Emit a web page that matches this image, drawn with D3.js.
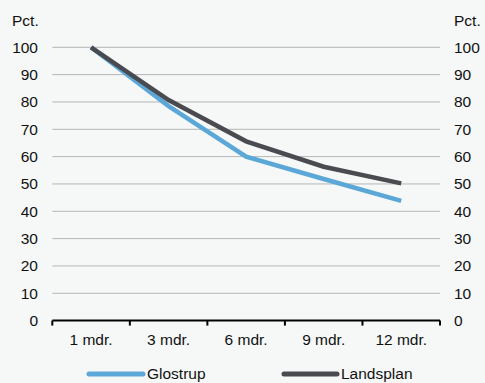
<!DOCTYPE html>
<html><head><meta charset="utf-8">
<script src="https://cdn.jsdelivr.net/npm/d3@7"></script>
<style>body{margin:0;background:#f6f8f8;}svg{display:block;font-family:"Liberation Sans",Arial,sans-serif;}</style>
</head><body>
<script>
const categories = ["1 mdr.", "3 mdr.", "6 mdr.", "9 mdr.", "12 mdr."];
const glostrup = [100, 78.5, 60, 51.8, 43.8];
const landsplan = [100, 80.7, 65.6, 56.3, 50.2];
const yTicks = [0, 10, 20, 30, 40, 50, 60, 70, 80, 90, 100];
const seriesNames = ["Glostrup", "Landsplan"];
const colors = ["#5ba8d8", "#4a4b50"];

const W = 485, H = 383;
const svg = d3.select("body").append("svg").attr("width", W).attr("height", H);
svg.append("rect").attr("width", W).attr("height", H).attr("fill", "#f6f8f8");

const x = d3.scaleBand().domain(categories).range([52.3, 440]);
const y = d3.scaleLinear().domain([0, 100]).range([320.6, 47.3]);

// grid
svg.append("g").selectAll("line").data(yTicks.filter(d => d > 0)).join("line")
  .attr("x1", 52.3).attr("x2", 440).attr("y1", d => y(d)).attr("y2", d => y(d))
  .attr("stroke", "#b4b4b4").attr("stroke-width", 1);

// y labels
const fs = 15.5;
svg.append("g").selectAll("text").data(yTicks).join("text")
  .attr("x", 38).attr("y", d => y(d)).attr("dy", "0.35em").attr("text-anchor", "end")
  .attr("font-size", fs).attr("fill", "#111").text(d => d);
svg.append("g").selectAll("text").data(yTicks).join("text")
  .attr("x", 454).attr("y", d => y(d)).attr("dy", "0.35em").attr("text-anchor", "start")
  .attr("font-size", fs).attr("fill", "#111").text(d => d);
svg.append("text").attr("x", 12).attr("y", 21).attr("dy", "0.35em").attr("font-size", fs).attr("fill", "#111").text("Pct.");
svg.append("text").attr("x", 454).attr("y", 21).attr("dy", "0.35em").attr("font-size", fs).attr("fill", "#111").text("Pct.");

// x axis
const gx = svg.append("g").attr("transform", `translate(0,${y(0)})`);
gx.append("line").attr("x1", 52.3).attr("x2", 440).attr("stroke", "#000").attr("stroke-width", 2);
const edges = categories.map(c => x(c)).concat([x.range()[1]]);
gx.selectAll(".tk").data(edges).join("line").attr("class", "tk")
  .attr("x1", d => d).attr("x2", d => d).attr("y1", 0).attr("y2", 5)
  .attr("stroke", "#000").attr("stroke-width", 2);
gx.selectAll(".lb").data(categories).join("text").attr("class", "lb")
  .attr("x", d => x(d) + x.bandwidth() / 2).attr("y", 19).attr("dy", "0.35em")
  .attr("text-anchor", "middle").attr("font-size", fs).attr("fill", "#111").text(d => d);

// lines
const line = d3.line().x((d, i) => x(categories[i]) + x.bandwidth() / 2).y(d => y(d));
[glostrup, landsplan].forEach((s, i) => {
  svg.append("path").datum(s).attr("d", line).attr("fill", "none")
    .attr("stroke", colors[i]).attr("stroke-width", 4.5).attr("stroke-linejoin", "miter");
});

// legend
const leg = [{x1: 89, x2: 143, tx: 147}, {x1: 284, x2: 337, tx: 341}];
seriesNames.forEach((n, i) => {
  svg.append("line").attr("x1", leg[i].x1).attr("x2", leg[i].x2).attr("y1", 374).attr("y2", 374)
    .attr("stroke", colors[i]).attr("stroke-width", 5).attr("stroke-linecap", "round");
  svg.append("text").attr("x", leg[i].tx).attr("y", 374).attr("dy", "0.35em")
    .attr("font-size", fs).attr("fill", "#111").text(n);
});
</script>
</body></html>
